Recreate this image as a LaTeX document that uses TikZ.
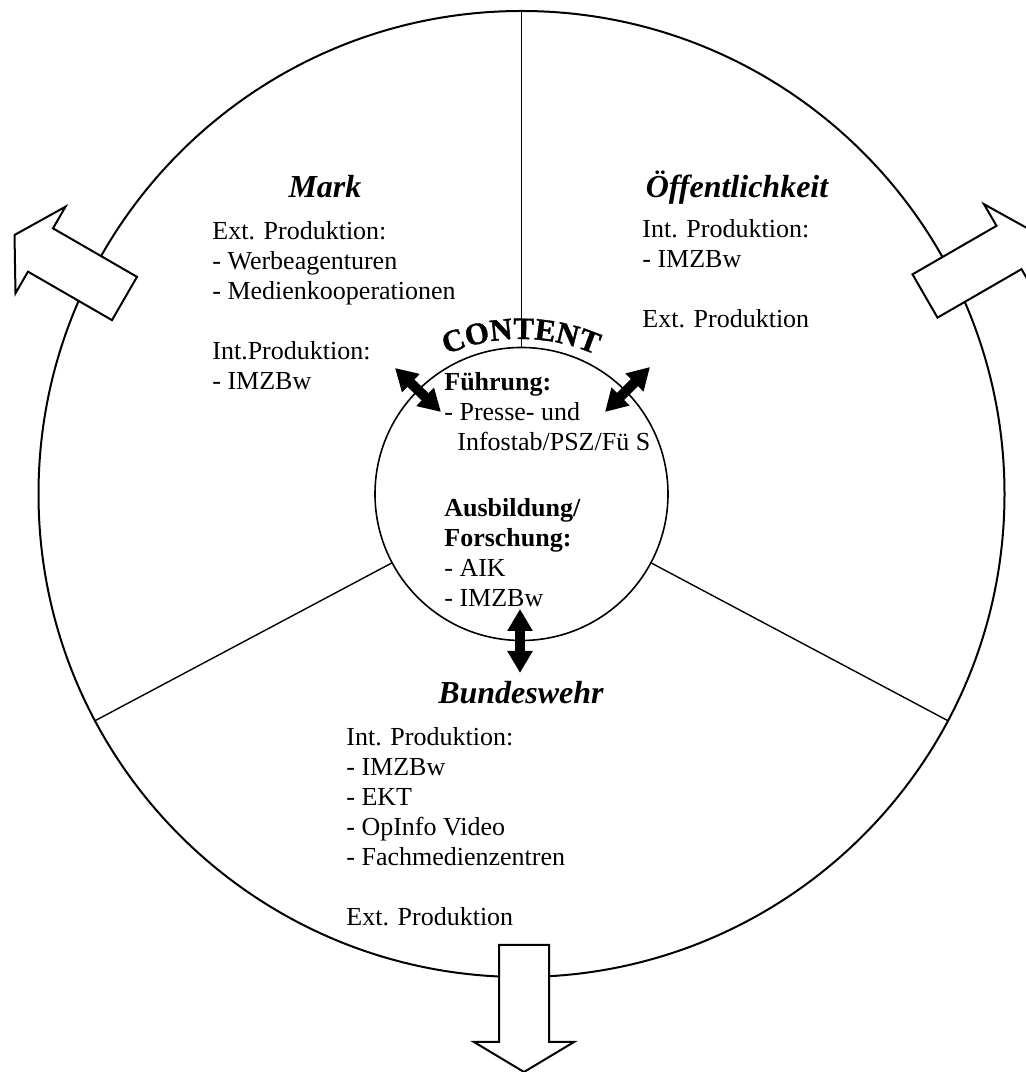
\documentclass[tikz,border=0pt]{standalone}
\usepackage{fontspec}
\setmainfont{Liberation Serif}
\newfontfamily\contentfont{Liberation Serif}[UprightFont={* Bold}, UprightFeatures={FakeBold=1.2}]
\usetikzlibrary{arrows.meta,decorations.text}

\begin{document}
\begin{tikzpicture}[
            x = 0.5pt, y = 0.5pt, % one unit = one pixel
            > = {Triangle[length=11pt,width=12pt]}, % arrow head style
            body/.style = {font=\fontsize{13}{15}\selectfont, align=left, anchor=base west, inner sep=0pt},
            head/.style = {font=\fontsize{16}{18}\selectfont\bfseries\itshape, anchor=base, inner sep=0pt},
            twoway/.style = {<->, line width=5pt},
            divider/.style = {line width=0.7pt},
            hollow arrow/.pic = {
                \draw[fill=white, line width=1pt, line join=miter]
                    (0,-25) -- (97,-25) -- (97,-50) -- (127,0) -- (97,50) -- (97,25) -- (0,25) -- cycle;
            }
        ]

        \tikzstyle{ring}=[
            circle,
            draw = black,
            inner sep = 0pt
        ]

        \clip (0,0) rectangle (1026,1072);
        \useasboundingbox (0,0) rectangle (1026,1072);

        \coordinate (ctr) at (521.5,578);
        \node[ring, line width=1pt, minimum size=483pt] (outer) at (ctr) {};
        \node[ring, line width=0.8pt, minimum size=146.5pt] (inner) at (ctr) {};

        \draw[divider] (inner.90) -- (outer.90);
        \draw[divider] (inner.-28.3) -- (outer.-28.3);
        \draw[divider] (inner.208.5) -- (outer.208.5);

        % sectors (body nodes sit on their last baseline)
        \node[head] (markhead) at (325,874) {Mark};
        \node[body] (mark) at (212,682) {Ext. Produktion:\\- Werbeagenturen\\- Medienkooperationen\\[15pt]Int.Produktion:\\- IMZBw};

        \node[head] (oeffhead) at (737,874) {Öffentlichkeit};
        \node[body] (oeff) at (642,744) {Int. Produktion:\\- IMZBw\\[15pt]Ext. Produktion};

        \node[head] (bwhead) at (521,368) {Bundeswehr};
        \node[body] (bw) at (346,146) {Int. Produktion:\\- IMZBw\\- EKT\\- OpInfo Video\\- Fachmedienzentren\\[15pt]Ext. Produktion};

        % centre
        \node[body] (core) at (444,465) {\textbf{Führung:}\\- Presse- und\\\hspace*{6.5pt}Infostab/PSZ/Fü S\\[18pt]\textbf{Ausbildung/}\\\textbf{Forschung:}\\- AIK\\- IMZBw};

        \path[decorate, decoration={text along path, text align=center,
                text={|\contentfont\fontsize{15.5}{15.5}\selectfont|CONTENT}}]
            (521,548) ++(120:185) arc[start angle=120, end angle=60, radius=185];

        \coordinate (nwA) at (395,704);
        \coordinate (nwB) at (441,660);
        \coordinate (neA) at (650,705);
        \coordinate (neB) at (605,660);
        \coordinate (sA) at (520,463);
        \coordinate (sB) at (520,399);

        \draw[twoway] (nwA) -- (nwB);
        \draw[twoway] (neA) -- (neB);
        \draw[twoway] (sA) -- (sB);

        \pic[rotate=150] at (124.5,773.5) {hollow arrow};
        \pic[rotate=30] at (925,776) {hollow arrow};
        \pic[rotate=-90] at (524,127) {hollow arrow};
    \end{tikzpicture}
\end{document}
